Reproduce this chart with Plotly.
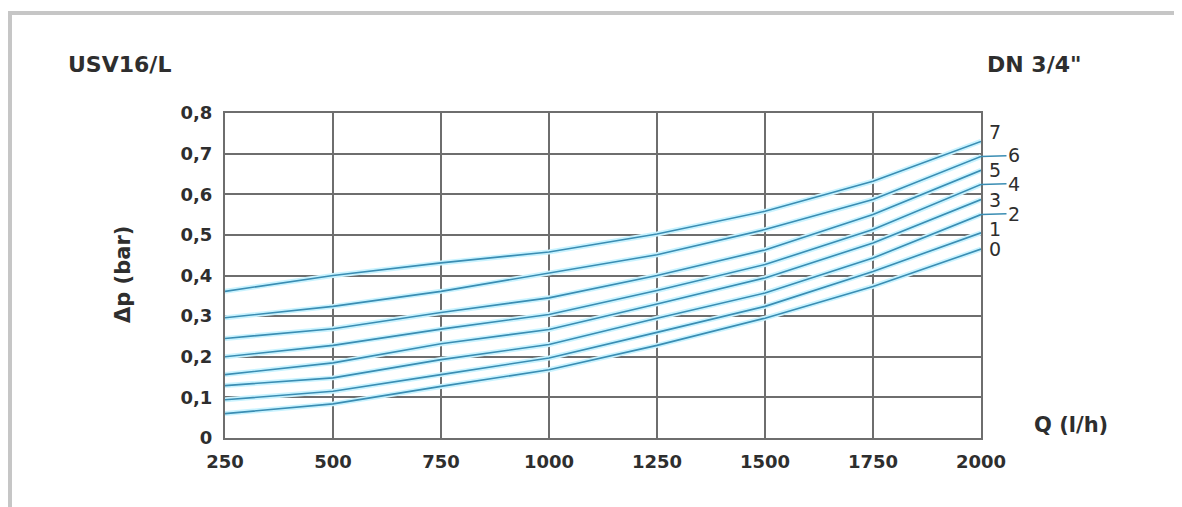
import plotly.graph_objects as go

# ---- data ----
flow = [250, 500, 750, 1000, 1250, 1500, 1750, 2000]
curve_names = ["0", "1", "2", "3", "4", "5", "6", "7"]
dp0 = [0.060, 0.084, 0.127, 0.168, 0.228, 0.295, 0.373, 0.465]
dp1 = [0.094, 0.115, 0.156, 0.197, 0.260, 0.324, 0.410, 0.505]
dp2 = [0.129, 0.148, 0.193, 0.230, 0.295, 0.357, 0.443, 0.550]
dp3 = [0.156, 0.185, 0.232, 0.267, 0.330, 0.394, 0.480, 0.587]
dp4 = [0.200, 0.228, 0.268, 0.304, 0.363, 0.427, 0.513, 0.624]
dp5 = [0.245, 0.269, 0.309, 0.345, 0.400, 0.463, 0.550, 0.659]
dp6 = [0.296, 0.324, 0.361, 0.406, 0.451, 0.513, 0.587, 0.693]
dp7 = [0.361, 0.400, 0.431, 0.458, 0.502, 0.558, 0.632, 0.730]
series = [dp0, dp1, dp2, dp3, dp4, dp5, dp6, dp7]

x_ticks = [250, 500, 750, 1000, 1250, 1500, 1750, 2000]
y_ticks = [0, 0.1, 0.2, 0.3, 0.4, 0.5, 0.6, 0.7, 0.8]

title_left = "USV16/L"
title_right = "DN 3/4\""
x_title = "Q (l/h)"
y_title = "Δp (bar)"

# ---- styles ----
FONT = "DejaVu Sans"
TXT = "#2e2e2e"
GRID = "#6e6e6e"
HALO = "#c9f3ff"
CORE = "#3a8db3"

fig = go.Figure()
for vals in series:
    fig.add_trace(go.Scatter(x=flow, y=vals, mode="lines",
                             line=dict(color=HALO, width=5), hoverinfo="skip",
                             showlegend=False))
for name, vals in zip(curve_names, series):
    fig.add_trace(go.Scatter(x=flow, y=vals, mode="lines", name=name,
                             line=dict(color=CORE, width=1.6),
                             showlegend=False))

# curve labels at the right end
leader = {"6", "4", "2"}
yshift = {"7": 9, "1": 4}
for name, vals in zip(curve_names, series):
    if name in leader:
        fig.add_annotation(x=flow[-1], y=vals[-1], xref="x", yref="y",
                           text=name, showarrow=True, arrowhead=0,
                           arrowwidth=1.6, arrowcolor=CORE, ax=33, ay=-1,
                           standoff=0,
                           font=dict(family=FONT, size=19, color=TXT))
    else:
        fig.add_annotation(x=flow[-1], y=vals[-1], xref="x", yref="y",
                           text=name, showarrow=False, xanchor="center",
                           xshift=14, yshift=yshift.get(name, 0),
                           font=dict(family=FONT, size=19, color=TXT))

# page offset of the figure inside the browser window (body margin)
OFF = 8
W, H = 1182 - OFF, 507 - OFF
L, T = 225 - OFF, 113 - OFF
PW, PH = 756, 325
R, B = W - L - PW, H - T - PH

def px(p):
    return (p - OFF - L) / PW

def py(q):
    return (T + PH - (q - OFF)) / PH

# titles
fig.add_annotation(x=px(66), y=py(64), xref="paper", yref="paper",
                   text=f"<b>{title_left}</b>", showarrow=False,
                   xanchor="left", yanchor="middle",
                   font=dict(family=FONT, size=22, color=TXT))
fig.add_annotation(x=px(985), y=py(64), xref="paper", yref="paper",
                   text=f"<b>{title_right}</b>", showarrow=False,
                   xanchor="left", yanchor="middle",
                   font=dict(family=FONT, size=22, color=TXT))
fig.add_annotation(x=px(1032), y=py(425), xref="paper", yref="paper",
                   text=f"<b>{x_title}</b>", showarrow=False,
                   xanchor="left", yanchor="middle",
                   font=dict(family=FONT, size=21, color=TXT))
fig.add_annotation(x=px(123), y=py(275), xref="paper", yref="paper",
                   text=f"<b>{y_title}</b>", showarrow=False, textangle=-90,
                   xanchor="center", yanchor="middle",
                   font=dict(family=FONT, size=21, color=TXT))

# page frame (top and left borders)
fig.add_shape(type="line", xref="paper", yref="paper",
              x0=px(6), x1=px(1182), y0=py(13), y1=py(13),
              line=dict(color="#c6c6c6", width=4))
fig.add_shape(type="line", xref="paper", yref="paper",
              x0=px(10), x1=px(10), y0=py(11), y1=py(507),
              line=dict(color="#c6c6c6", width=4))

axis_common = dict(showgrid=True, gridcolor=GRID, gridwidth=2,
                   showline=True, linecolor=GRID, linewidth=2, mirror=True,
                   zeroline=False, ticks="",
                   tickfont=dict(family=FONT, size=18, color=TXT, weight="bold"))

fig.update_xaxes(range=[250, 2000], tickvals=x_ticks,
                 ticktext=[str(v) for v in x_ticks],
                 ticklabelstandoff=6, **axis_common)
fig.update_yaxes(range=[0, 0.8], tickvals=y_ticks,
                 ticklabelstandoff=7, **axis_common)

fig.update_layout(width=W, height=H,
                  margin=dict(l=L, r=R, t=T, b=B, autoexpand=False),
                  paper_bgcolor="white", plot_bgcolor="white",
                  separators=", ", showlegend=False)

fig.write_html("out.html")
